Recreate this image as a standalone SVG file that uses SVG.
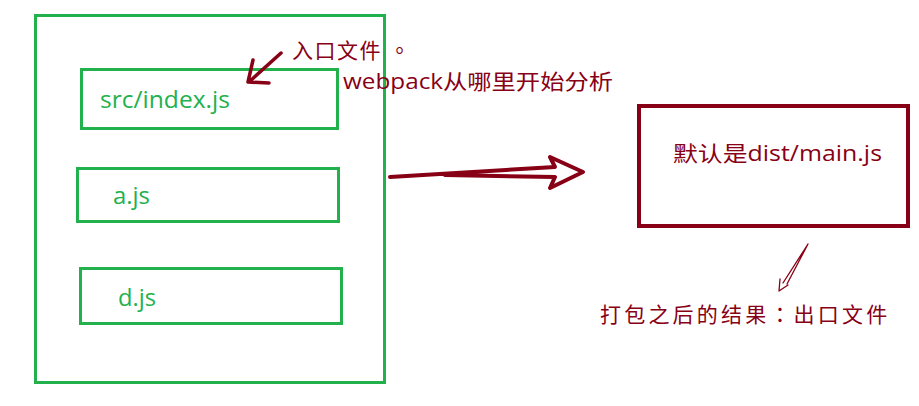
<svg xmlns="http://www.w3.org/2000/svg" width="919" height="406" viewBox="0 0 919 406">
<style>
.g{fill:none;stroke:#22B14C;stroke-width:3}
.gt{fill:#22B14C;font-family:"Open Sans","Noto Sans",sans-serif;font-size:23px}
.r{fill:none;stroke:#880015;stroke-linecap:round;stroke-linejoin:round}
.rt{fill:#880015;font-family:"Open Sans","Noto Sans CJK SC",sans-serif;font-size:21px}
.tc{font-family:"Noto Sans CJK TC",sans-serif}
</style>
<rect width="919" height="406" fill="#fff"/>
<g id="source">
<rect class="g" x="35.5" y="15.5" width="349" height="367"/>
</g>
<g id="src-index">
<rect class="g" x="81.5" y="69.5" width="256" height="59"/>
<text class="gt" x="100" y="108" textLength="130" lengthAdjust="spacingAndGlyphs">src/index.js</text>
</g>
<g id="a-js">
<rect class="g" x="77.5" y="168.5" width="261" height="53"/>
<text class="gt" x="113" y="204" textLength="37" lengthAdjust="spacingAndGlyphs">a.js</text>
</g>
<g id="d-js">
<rect class="g" x="80.5" y="268.5" width="261" height="55"/>
<text class="gt" x="118" y="306" textLength="38" lengthAdjust="spacingAndGlyphs">d.js</text>
</g>
<g id="output">
<rect x="639" y="106" width="269" height="120" fill="none" stroke="#880015" stroke-width="4"/>
<text class="rt" x="673" y="161" textLength="209" lengthAdjust="spacingAndGlyphs">默认是dist/main.js</text>
</g>
<g id="labels">
<text class="rt" x="292" y="58" letter-spacing="1.5">入口文件<tspan class="tc" x="389">。</tspan></text>
<text class="rt" x="343" y="89" textLength="270" lengthAdjust="spacingAndGlyphs">webpack从哪里开始分析</text>
<text class="rt" x="600" y="322" letter-spacing="3.2">打包之后的结果<tspan class="tc">：</tspan>出口文件</text>
</g>
<g id="connectors">
<path class="r" stroke-width="3.5" d="M281,53 L249,82 M253,60 L248,82 L269,83"/>
<path class="r" stroke-width="4" d="M390,177 L555,167 L550,157 L583,172 L550,188 L555,177 L445,175"/>
<path class="r" stroke-width="1.3" d="M808,244 L783,283 M808,244 L787,284 M780,279 L779,291 L788,285"/>
</g>
</svg>
